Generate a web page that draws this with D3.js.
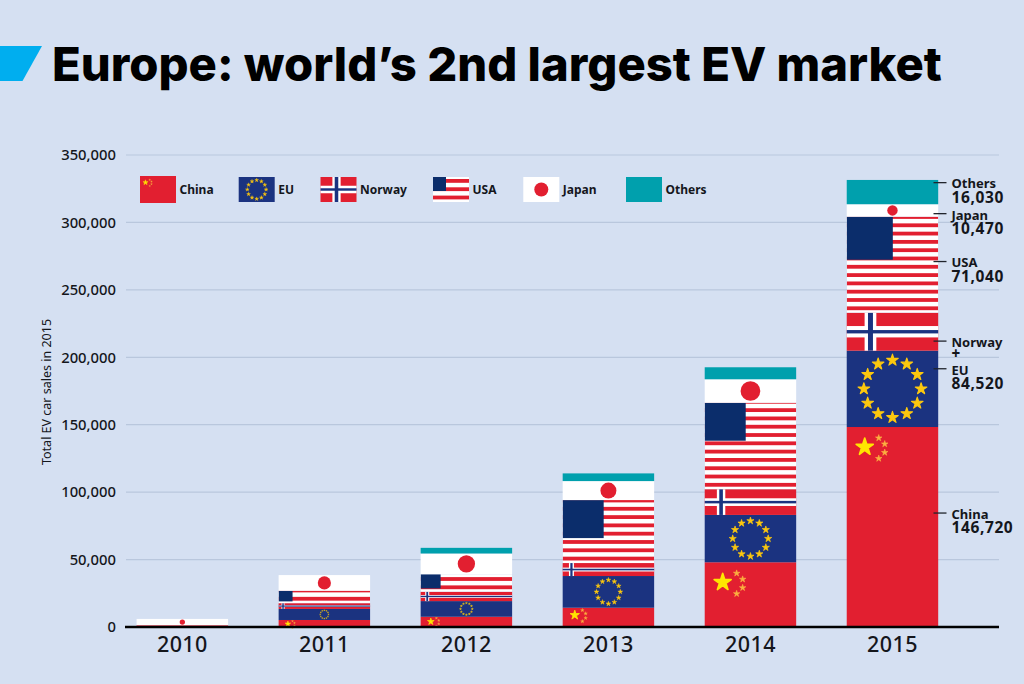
<!DOCTYPE html>
<html>
<head>
<meta charset="utf-8">
<script src="https://cdnjs.cloudflare.com/ajax/libs/d3/7.8.5/d3.min.js"></script>
<style>
  html, body { margin: 0; padding: 0; background: #d5e0f2; }
  svg { display: block; }
  text { font-family: "Noto Sans", sans-serif; fill: #14161c; }
</style>
</head>
<body>
<svg id="chart" width="1024" height="684"></svg>
<script>
const years = ['2010', '2011', '2012', '2013', '2014', '2015']
const china = [1300, 5200, 7600, 14300, 48000, 148300]
const eu = [0, 8200, 11600, 23500, 35100, 56600]
const norway = [0, 4200, 6900, 9600, 19000, 28100]
const usa = [0, 9300, 13100, 46700, 64200, 71300]
const japan = [4700, 11600, 15300, 14100, 17400, 9200]
const others = [0, 0, 4200, 5700, 8900, 18000]

const yTicks = [0, 50000, 100000, 150000, 200000, 250000, 300000, 350000]
const seriesNames = ['China', 'EU', 'Norway', 'USA', 'Japan', 'Others']
const seriesValues = [china, eu, norway, usa, japan, others]

// callouts next to the 2015 bar
const calloutNames = ['Others', 'Japan', 'USA', 'Norway', 'EU', 'China']
const calloutValues = ['16,030', '10,470', '71,040', '', '84,520', '146,720']
const calloutAt = [329500, 306500, 271000, 212000, 191500, 84500]

const RED = '#e21f30', EU_BLUE = '#1b3380', NAVY = '#0b2d6b', TEAL = '#00a0ad', GOLD = '#fcc80e'

const svg = d3.select('#chart')

const rows = years.map((year, i) => {
  const row = { year }
  seriesNames.forEach((name, s) => { row[name] = seriesValues[s][i] })
  return row
})
const stacked = d3.stack().keys(seriesNames)(rows)

const x = d3.scaleBand().domain(years).range([136.6, 938.2]).paddingInner(0.356)
const y = d3.scaleLinear().domain([0, 350000]).range([627, 155])

// canton of the US flag, by height of the segment
const cantonW = d3.scaleLinear().domain([12.6, 17.7, 63, 86.6, 96]).range([14, 20, 41, 41, 46])
const cantonH = d3.scaleLinear().domain([12.6, 17.7, 63, 86.6, 96]).range([10.7, 14.3, 38, 38, 43])

// banner
svg.append('path')
  .attr('d', d3.line()([[0, 46], [42, 46], [22.5, 81], [0, 81]]) + 'Z')
  .attr('fill', '#00aeef')
svg.append('text')
  .attr('x', 52).attr('y', 81)
  .style('font-family', 'Inter')
  .style('font-weight', 800)
  .style('font-size', '47.2px')
  .style('fill', '#000')
  .text('Europe: world’s 2nd largest EV market')

// y axis + grid
const yAxis = svg.append('g')
  .attr('transform', 'translate(126,0)')
  .call(d3.axisLeft(y).tickValues(yTicks).tickSize(0).tickPadding(10).tickFormat(d3.format(',')))
yAxis.select('.domain').remove()
yAxis.selectAll('text')
  .style('font-size', '14.8px').style('font-weight', 500).style('font-family', '"Noto Sans"')
svg.append('g').selectAll('line')
  .data(yTicks.filter(d => d > 0))
  .enter().append('line')
  .attr('x1', 126).attr('x2', 999)
  .attr('y1', d => y(d)).attr('y2', d => y(d))
  .attr('stroke', '#b9c7dd').attr('stroke-width', 1.2)

svg.append('text')
  .attr('transform', 'translate(51,392) rotate(-90)')
  .attr('text-anchor', 'middle')
  .style('font-size', '12.5px')
  .text('Total EV car sales in 2015')

const star = (g, cx, cy, r, fill) => g.append('path')
  .attr('d', d3.symbol(d3.symbolStar, r * r / 0.8908)())
  .attr('transform', `translate(${cx},${cy})`)
  .attr('fill', fill)
  .attr('stroke', fill).attr('stroke-width', r * 0.18).attr('stroke-linejoin', 'round')

// each flag fills the box x0,y0,w,h
const flags = {
  China(g, x0, y0, w, h, opt = {}) {
    g.append('rect').attr('x', x0).attr('y', y0).attr('width', w).attr('height', h).attr('fill', RED)
    if (h < 3) return
    const u = opt.u || Math.min(1, Math.sqrt(h / 65))
    const sx = x0 + (opt.dx || 5 + 13 * u)
    const sy = y0 + (opt.dy || Math.min(20, 2 + 0.28 * h))
    star(g, sx, sy, 9 * u, '#ffe600')
    const small = [[14, -9], [20, -3], [20, 5.5], [14, 11.5]]
    small.forEach(p => star(g, sx + p[0] * u, sy + p[1] * u, 3.4 * u, '#fbb040'))
  },
  EU(g, x0, y0, w, h) {
    g.append('rect').attr('x', x0).attr('y', y0).attr('width', w).attr('height', h).attr('fill', EU_BLUE)
    const r = 0.375 * h
    d3.range(12).forEach(i => {
      const a = i * Math.PI / 6
      star(g, x0 + w / 2 + r * Math.sin(a), y0 + h / 2 - r * Math.cos(a), 0.08 * h, GOLD)
    })
  },
  Norway(g, x0, y0, w, h) {
    g.append('rect').attr('x', x0).attr('y', y0).attr('width', w).attr('height', h).attr('fill', RED)
    const cx = x0 + 0.6 * h + 1, cy = y0 + h / 2
    const vw = 0.27 * h + 1.5, hw = 0.3 * h
    const vb = 0.11 * h + 0.8, hb = 0.07 * h + 0.7
    g.append('rect').attr('x', x0).attr('y', cy - hw / 2).attr('width', w).attr('height', hw).attr('fill', '#fff')
    g.append('rect').attr('x', cx - vw / 2).attr('y', y0).attr('width', vw).attr('height', h).attr('fill', '#fff')
    g.append('rect').attr('x', x0).attr('y', cy - hb / 2).attr('width', w).attr('height', hb).attr('fill', EU_BLUE)
    g.append('rect').attr('x', cx - vb / 2).attr('y', y0).attr('width', vb).attr('height', h).attr('fill', EU_BLUE)
  },
  USA(g, x0, y0, w, h, opt = {}) {
    const id = 'clip' + Math.round(x0) + '-' + Math.round(y0)
    g.append('clipPath').attr('id', id)
      .append('rect').attr('x', x0).attr('y', y0).attr('width', w).attr('height', h)
    const f = g.append('g').attr('clip-path', `url(#${id})`)
    f.append('rect').attr('x', x0).attr('y', y0).attr('width', w).attr('height', h).attr('fill', '#fff')
    const n = Math.ceil(h / 8.3) + 1
    d3.range(n).forEach(k => {
      f.append('rect').attr('x', x0).attr('width', w).attr('height', 3.8)
        .attr('y', y0 + h - 6.4 - k * 8.3).attr('fill', RED)
    })
    const cw = opt.cw || cantonW(h)
    const ch = opt.ch || cantonH(h)
    f.append('rect').attr('x', x0).attr('y', y0).attr('width', cw).attr('height', ch).attr('fill', NAVY)
  },
  Japan(g, x0, y0, w, h, opt = {}) {
    g.append('rect').attr('x', x0).attr('y', y0).attr('width', w).attr('height', h).attr('fill', '#fff')
    g.append('circle').attr('cx', x0 + w / 2).attr('cy', y0 + h / 2).attr('r', opt.r || 0.42 * h).attr('fill', RED)
  },
  Others(g, x0, y0, w, h) {
    g.append('rect').attr('x', x0).attr('y', y0).attr('width', w).attr('height', h).attr('fill', TEAL)
  }
}

// bars
stacked.forEach(layer => {
  layer.forEach((d, i) => {
    const h = y(d[0]) - y(d[1])
    if (h <= 0) return
    flags[layer.key](svg.append('g'), x(years[i]), y(d[1]), x.bandwidth(), h)
  })
})

// x axis
const xAxis = svg.append('g')
  .attr('transform', 'translate(0,627)')
  .call(d3.axisBottom(x).tickSize(0).tickPadding(10))
xAxis.select('.domain').remove()
xAxis.selectAll('text')
  .style('font-size', '21.5px').style('font-weight', 500).style('font-family', '"Noto Sans"')
  .style('letter-spacing', '0.4px')
svg.append('line')
  .attr('x1', 125).attr('x2', 999).attr('y1', 627).attr('y2', 627)
  .attr('stroke', '#000').attr('stroke-width', 2.4)

// legend
const legendX = d3.scaleOrdinal().domain(seriesNames).range([140, 238.7, 320.5, 433, 523.3, 626])
const legendOpt = { China: { u: 0.3, dx: 5.5, dy: 6.5 }, USA: { cw: 13, ch: 14 }, Japan: { r: 7 } }
seriesNames.forEach(name => {
  const lx = legendX(name)
  const top = name === 'China' ? 176 : 177
  const lh = name === 'China' ? 27 : 25
  flags[name](svg.append('g'), lx, top, 36, lh, legendOpt[name])
  svg.append('text')
    .attr('x', lx + 39.5).attr('y', 190).attr('dy', '0.35em')
    .style('font-size', '12px').style('font-weight', 700)
    .text(name)
})

// callouts
calloutNames.forEach((name, i) => {
  const cy = y(calloutAt[i])
  svg.append('line')
    .attr('x1', 933.5).attr('x2', 946.5).attr('y1', cy).attr('y2', cy)
    .attr('stroke', '#20242c').attr('stroke-width', 1.3)
  svg.append('text')
    .attr('x', 951.5).attr('y', cy + 1.3).attr('dy', '0.35em')
    .style('font-size', '13px').style('font-weight', 700)
    .text(name)
  if (calloutValues[i]) {
    svg.append('text')
      .attr('x', 951.5).attr('y', cy + 15).attr('dy', '0.35em')
      .style('font-size', '15.5px').style('font-weight', 700).style('letter-spacing', '0.6px')
      .text(calloutValues[i])
  }
})
svg.append('text')
  .attr('x', 951.5).attr('y', y(calloutAt[3]) + 13).attr('dy', '0.35em')
  .style('font-size', '15px').style('font-weight', 800)
  .text('+')
</script>
</body>
</html>
